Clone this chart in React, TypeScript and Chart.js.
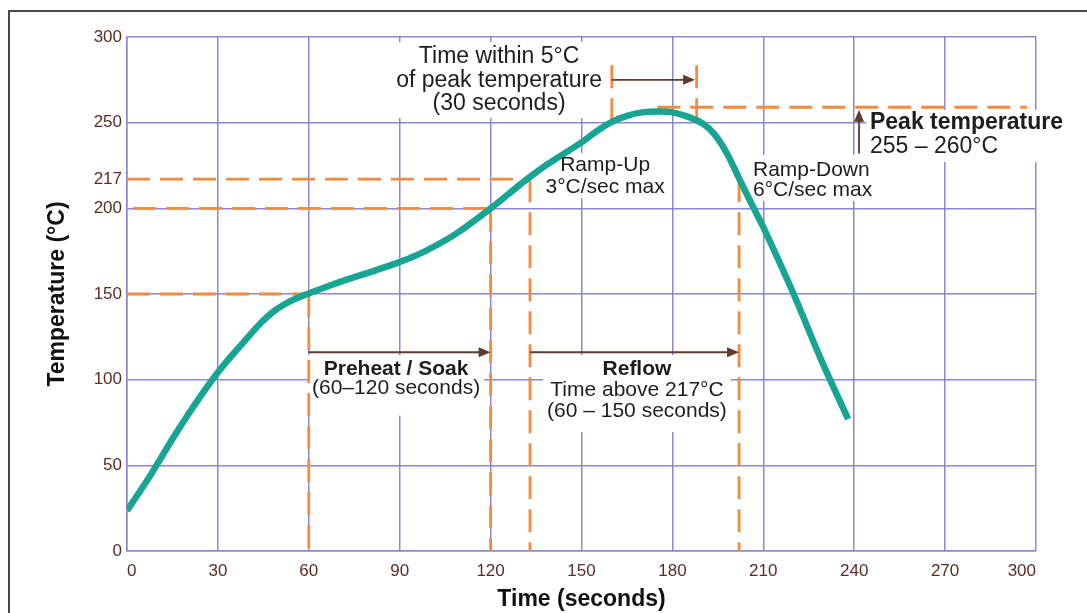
import React, { useEffect, useRef } from "react";
import { Chart, registerables } from "chart.js";

Chart.register(...registerables);

// ---- data ----
const timeSec = [0, 8, 17, 29, 40, 44, 48, 52, 56, 60, 67, 74, 82, 89, 96, 102, 108, 114, 120, 126, 132, 139, 150, 155, 160, 165, 170, 175, 180, 185, 190, 194, 198, 202, 206, 210, 220, 229, 238];
const tempC = [23.5, 45, 71, 102, 125, 132.8, 139.3, 144, 147.5, 150.3, 155, 159.3, 163.8, 168, 173, 178.3, 184.5, 192, 200, 208.5, 217, 226, 238.5, 245, 250.5, 254, 256, 256.5, 256, 253.5, 249.5, 243, 232, 217.5, 203, 189, 150, 112, 77];

const xTickValues = [0, 30, 60, 90, 120, 150, 180, 210, 240, 270, 300];
const yTickValues = [0, 50, 100, 150, 200, 217, 250, 300];

// dashed guide segments: [t1, T1, t2, T2]
const guideSegments: number[][] = [
  [0, 150, 60, 150],
  [2, 200, 120, 200],
  [0, 217, 133, 217],
  [60, 150, 60, 0],
  [120, 200, 120, 0],
  [133, 217, 133, 0],
  [202, 217, 202, 0],
  [160, 283.5, 160, 251],
  [188, 283.5, 188, 250],
  [175, 259, 297, 259],
];

// arrows: [t1, T1, t2, T2] (head at end)
const arrowSegments: number[][] = [
  [160, 275, 187.5, 275],
  [241.6, 232, 241.6, 257.5],
  [60, 116, 120, 116],
  [133, 116, 202, 116],
];

// annotation text
const timeWithinText = ["Time within 5°C", "of peak temperature", "(30 seconds)"];
const rampUpText = ["Ramp-Up", "3°C/sec max"];
const rampDownText = ["Ramp-Down", "6°C/sec max"];
const peakText = ["Peak temperature", "255 – 260°C"];
const preheatText = ["Preheat / Soak", "(60–120 seconds)"];
const reflowText = ["Reflow", "Time above 217°C", "(60 – 150 seconds)"];

// ---- styles ----
const FONT = "'Liberation Sans', Arial, Helvetica, sans-serif";
const TEAL = "#17a593";
const ORANGE = "#f38a3c";
const GRID = "#8c86d8";
const TICK = "#5a2d22";
const TEXT = "#1f1c1c";
const ARROW = "#5e3a30";

type Block = {
  lines: string[];
  boldFirst: boolean;
  size: number;
  align: "center" | "left";
  t: number;
  T: number;
  step: number;
  padTop: number;
  padBottom: number;
};

const blocks: Block[] = [
  { lines: timeWithinText, boldFirst: false, size: 23, align: "center", t: 122.8, T: 288.3, step: 23.5, padTop: 15, padBottom: 14 },
  { lines: rampUpText, boldFirst: false, size: 21, align: "center", t: 157.8, T: 225.3, step: 22, padTop: 12, padBottom: 11 },
  { lines: rampDownText, boldFirst: false, size: 21, align: "left", t: 206.6, T: 222.4, step: 20, padTop: 15, padBottom: 11 },
  { lines: peakText, boldFirst: true, size: 23, align: "left", t: 245.2, T: 249.8, step: 24, padTop: 13, padBottom: 15 },
  { lines: preheatText, boldFirst: true, size: 21, align: "center", t: 88.8, T: 106.2, step: 19.5, padTop: 14, padBottom: 27 },
  { lines: reflowText, boldFirst: true, size: 21, align: "center", t: 168.3, T: 106.2, step: 21, padTop: 14, padBottom: 21 },
];

function setFont(ctx: CanvasRenderingContext2D, b: Block, i: number) {
  const bold = b.boldFirst && i === 0;
  ctx.font = `${bold ? "bold " : ""}${b.size}px ${FONT}`;
}

const annotPlugin = {
  id: "reflowAnnotations",
  beforeDatasetsDraw(chart: any) {
    const { ctx, scales } = chart;
    const xs = scales.x;
    const ys = scales.y;
    ctx.save();
    ctx.fillStyle = "#ffffff";
    for (const b of blocks) {
      const cx = xs.getPixelForValue(b.t);
      const y0 = ys.getPixelForValue(b.T);
      let minX = Infinity;
      let maxX = -Infinity;
      b.lines.forEach((line, i) => {
        setFont(ctx, b, i);
        const w = ctx.measureText(line).width;
        const left = b.align === "center" ? cx - w / 2 : cx;
        minX = Math.min(minX, left);
        maxX = Math.max(maxX, left + w);
      });
      const top = y0 - b.padTop;
      const bottom = y0 + (b.lines.length - 1) * b.step + b.padBottom;
      ctx.fillRect(minX - 4, top, maxX - minX + 8, bottom - top);
    }
    ctx.restore();
  },
  afterDatasetsDraw(chart: any) {
    const { ctx, scales } = chart;
    const xs = scales.x;
    const ys = scales.y;
    ctx.save();
    // arrows
    for (const a of arrowSegments) {
      const x1 = xs.getPixelForValue(a[0]);
      const y1 = ys.getPixelForValue(a[1]);
      const x2 = xs.getPixelForValue(a[2]);
      const y2 = ys.getPixelForValue(a[3]);
      const ang = Math.atan2(y2 - y1, x2 - x1);
      const headLen = 12;
      const headW = 5;
      ctx.strokeStyle = ARROW;
      ctx.lineWidth = 1.8;
      ctx.beginPath();
      ctx.moveTo(x1, y1);
      ctx.lineTo(x2 - Math.cos(ang) * headLen * 0.8, y2 - Math.sin(ang) * headLen * 0.8);
      ctx.stroke();
      ctx.fillStyle = ARROW;
      ctx.beginPath();
      ctx.moveTo(x2, y2);
      ctx.lineTo(x2 - Math.cos(ang) * headLen - Math.sin(ang) * headW, y2 - Math.sin(ang) * headLen + Math.cos(ang) * headW);
      ctx.lineTo(x2 - Math.cos(ang) * headLen + Math.sin(ang) * headW, y2 - Math.sin(ang) * headLen - Math.cos(ang) * headW);
      ctx.closePath();
      ctx.fill();
    }
    // texts
    ctx.fillStyle = TEXT;
    ctx.textBaseline = "middle";
    for (const b of blocks) {
      const cx = xs.getPixelForValue(b.t);
      const y0 = ys.getPixelForValue(b.T);
      ctx.textAlign = b.align;
      b.lines.forEach((line, i) => {
        setFont(ctx, b, i);
        ctx.fillText(line, cx, y0 + i * b.step);
      });
    }
    ctx.restore();
  },
};

export default function App() {
  const ref = useRef<HTMLCanvasElement>(null);

  useEffect(() => {
    const canvas = ref.current;
    if (!canvas) return;
    const curve = timeSec.map((t, i) => ({ x: t, y: tempC[i] }));
    const guides = guideSegments.map((g) => ({
      data: [
        { x: g[0], y: g[1] },
        { x: g[2], y: g[3] },
      ],
      borderColor: ORANGE,
      borderWidth: 2.8,
      borderDash: [23, 10],
      pointRadius: 0,
      tension: 0,
      order: 2,
      clip: false as any,
    }));
    const chart = new Chart(canvas, {
      type: "line",
      data: {
        datasets: [
          {
            data: curve,
            borderColor: TEAL,
            borderWidth: 6.5,
            pointRadius: 0,
            tension: 0.4,
            borderJoinStyle: "round",
            order: 1,
          } as any,
          ...(guides as any[]),
        ],
      },
      options: {
        responsive: false,
        animation: false,
        events: [],
        layout: { padding: { left: 0, right: 51, top: 37, bottom: 0 } },
        plugins: {
          legend: { display: false },
          tooltip: { enabled: false },
        },
        scales: {
          x: {
            type: "linear",
            min: 0,
            max: 300,
            afterBuildTicks: (s: any) => {
              s.ticks = xTickValues.map((v) => ({ value: v }));
            },
            afterFit: (s: any) => {
              s.height = 62;
            },
            grid: { color: GRID, lineWidth: 1.5, drawTicks: false },
            border: { color: GRID, width: 1.5 },
            ticks: {
              align: "inner",
              padding: 10,
              color: TICK,
              maxRotation: 0,
              font: { family: FONT, size: 17 },
            },
            title: {
              display: true,
              text: "Time (seconds)",
              color: "#111",
              font: { family: FONT, size: 23, weight: "bold" },
              padding: { top: 0, bottom: 0 },
            },
          },
          y: {
            type: "linear",
            min: 0,
            max: 300,
            afterBuildTicks: (s: any) => {
              s.ticks = yTickValues.map((v) => ({ value: v }));
            },
            afterFit: (s: any) => {
              s.width = 127;
            },
            grid: {
              color: (c: any) => (c.tick && c.tick.value === 217 ? "rgba(0,0,0,0)" : GRID),
              lineWidth: 1.5,
              drawTicks: false,
            },
            border: { color: GRID, width: 1.5 },
            ticks: {
              padding: 5,
              color: TICK,
              font: { family: FONT, size: 17 },
            },
            title: {
              display: true,
              text: "Temperature (°C)",
              color: "#111",
              font: { family: FONT, size: 23, weight: "bold" },
              padding: { top: 44, bottom: 0 },
            },
          },
        },
      } as any,
      plugins: [annotPlugin],
    });
    return () => chart.destroy();
  }, []);

  return (
    <div style={{ position: "fixed", left: 0, top: 0, width: 1087, height: 613, background: "#fff", overflow: "hidden" }}>
      <div
        style={{
          position: "absolute",
          left: 8,
          top: 10,
          right: -10,
          bottom: -10,
          borderLeft: "2px solid #4a4a4a",
          borderTop: "2px solid #4a4a4a",
        }}
      />
      <canvas ref={ref} width={1087} height={613} style={{ position: "absolute", left: 0, top: 0, display: "block" }} />
    </div>
  );
}
